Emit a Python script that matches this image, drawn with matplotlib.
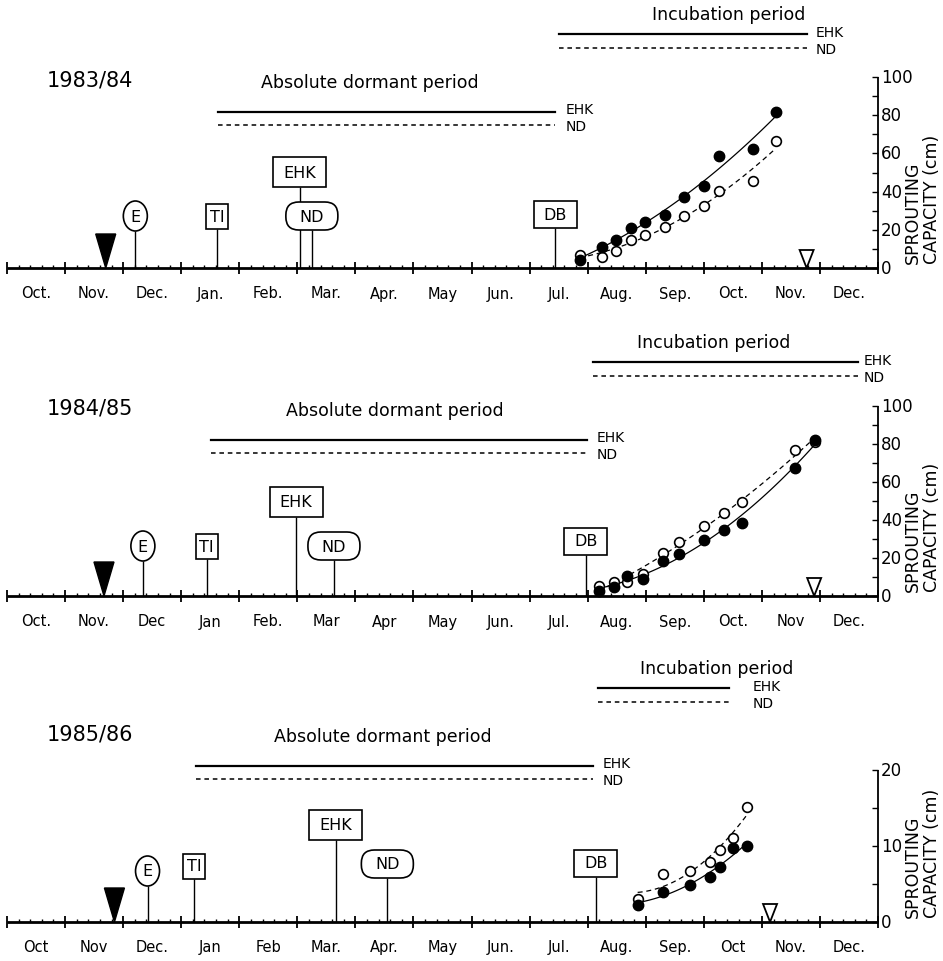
import matplotlib.pyplot as plt
import numpy as np
from matplotlib.patches import Ellipse, Rectangle, FancyBboxPatch, Polygon

# time axis in months counted from 1 October (0) to the end of December a year later (15)
years = ["1983/84", "1984/85", "1985/86"]
months_84 = ["Oct.", "Nov.", "Dec.", "Jan.", "Feb.", "Mar.", "Apr.", "May", "Jun.",
             "Jul.", "Aug.", "Sep.", "Oct.", "Nov.", "Dec."]
months_85 = ["Oct.", "Nov.", "Dec", "Jan", "Feb.", "Mar", "Apr", "May", "Jun.",
             "Jul.", "Aug.", "Sep.", "Oct.", "Nov", "Dec."]
months_86 = ["Oct", "Nov", "Dec.", "Jan", "Feb", "Mar.", "Apr.", "May", "Jun.",
             "Jul.", "Aug.", "Sep.", "Oct", "Nov.", "Dec."]

# phenological events (E, TI, EHK, ND, DB)
events = ["E", "TI", "EHK", "ND", "DB"]
events_84 = [2.21, 3.62, 5.04, 5.25, 9.44]
events_85 = [2.34, 3.44, 4.98, 5.63, 9.97]
events_86 = [2.42, 3.22, 5.66, 6.55, 10.14]

frost_dates = [1.70, 1.67, 1.85]     # black triangle
end_dates = [13.77, 13.90, 13.14]    # open triangle

dormant_84 = [3.63, 9.44]
dormant_85 = [3.51, 9.99]
dormant_86 = [3.25, 10.09]
incub_84 = [9.51, 13.77]
incub_85 = [10.09, 14.65]
incub_86 = [10.18, 12.43]

# sprouting capacity (cm)
dates_84 = [9.86, 10.24, 10.48, 10.74, 10.98, 11.33, 11.65, 12.01, 12.26, 12.84, 13.24]
ehk_84 = [4.4, 10.8, 14.6, 20.9, 24.2, 27.6, 37.2, 43.1, 58.7, 62.1, 81.9]
nd_84 = [6.6, 5.7, 9.1, 14.6, 17.5, 21.4, 27.3, 32.7, 40.3, 45.8, 66.3]

dates_85 = [10.19, 10.45, 10.67, 10.95, 11.29, 11.57, 12.01, 12.34, 12.66, 13.57, 13.91]
ehk_85 = [2.8, 4.6, 10.4, 8.9, 18.6, 22.1, 29.6, 34.6, 38.4, 67.2, 82.1]
nd_85 = [5.4, 7.5, 7.2, 11.6, 22.5, 28.2, 37.0, 43.7, 49.6, 76.8, 80.9]

dates_86 = [10.86, 11.29, 11.77, 12.10, 12.28, 12.51, 12.74]
ehk_86 = [2.3, 4.0, 4.9, 5.9, 7.3, 9.8, 10.0]
nd_86 = [3.0, 6.3, 6.7, 7.9, 9.5, 11.1, 15.1]

W, H = 943, 962
MPX = 58.07   # pixels per month
X0 = 7        # pixel of 1 October

fig = plt.figure(figsize=(W / 100, H / 100), dpi=100)


def panel(top, bottom, base, ppu, year, months, ev, ev_h, frost, end, dormant,
          incub, dates, ehk, nd, ymax, ystep, lstep, dorm_tx, inc_tx, inc_off):
    ax = fig.add_axes([0, 1 - bottom / H, 1, (bottom - top) / H])
    ax.set_xlim(-X0 / MPX, (W - X0) / MPX)
    ax.set_ylim(-(bottom - base) / ppu, (base - top) / ppu)
    ax.axis("off")

    def dx(p):
        return p / MPX

    def dy(p):
        return p / ppu

    # time axis
    ax.plot([0, 15], [0, 0], color="k", lw=2, solid_capstyle="butt")
    ax.vlines(np.arange(16), dy(-6), dy(6), color="k", lw=1.3)
    minor = [m + k / 5 for m in range(15) for k in range(1, 5)]
    ax.vlines(minor, 0, dy(3.5), color="k", lw=1)
    for i, lab in enumerate(months):
        ax.text(i + 0.5, dy(-25), lab, ha="center", va="center", fontsize=10.5)

    # right axis
    ax.vlines(15, 0, ymax, color="k", lw=1.3)
    ax.hlines(np.arange(0, ymax + 0.01, ystep), 15 - dx(6), 15, color="k", lw=1)
    for v in np.arange(0, ymax + 0.01, lstep):
        ax.text(15 + dx(3), v, "%d" % v, ha="left", va="center", fontsize=12)
    ax.text(15 + dx(35), dy(5), "SPROUTING", rotation=90, ha="center",
            va="bottom", fontsize=12.5)
    ax.text(15 + dx(54), dy(5), "CAPACITY (cm)", rotation=90, ha="center",
            va="bottom", fontsize=12.5)

    ax.text(dx(90 - X0), dy(188), year, ha="center", va="center", fontsize=15)

    # absolute dormant period
    ax.text(dx(dorm_tx - X0), dy(186), "Absolute dormant period", ha="center",
            va="center", fontsize=12.5)
    ax.plot(dormant, [dy(156)] * 2, color="k", lw=1.6)
    ax.plot(dormant, [dy(143)] * 2, color="k", lw=1.1, dashes=(3, 2.5))
    ax.text(dormant[1] + dx(10), dy(159), "EHK", va="center", fontsize=10)
    ax.text(dormant[1] + dx(10), dy(142), "ND", va="center", fontsize=10)

    # incubation period
    ax.text(dx(inc_tx - X0), dy(254), "Incubation period", ha="center",
            va="center", fontsize=12.5)
    ax.plot(incub, [dy(234)] * 2, color="k", lw=1.6)
    ax.plot(incub, [dy(220)] * 2, color="k", lw=1.1, dashes=(3, 2.5))
    ax.text(incub[1] + dx(inc_off), dy(236), "EHK", va="center", fontsize=10)
    ax.text(incub[1] + dx(inc_off), dy(219), "ND", va="center", fontsize=10)

    # triangles
    ax.add_patch(Polygon([[frost - dx(10), dy(34)], [frost + dx(10), dy(34)],
                          [frost, 0]], closed=True, fc="k", ec="k", zorder=4))
    ax.add_patch(Polygon([[end - dx(7), dy(18)], [end + dx(7), dy(18)],
                          [end, 0]], closed=True, fc="white", ec="k", lw=1.3,
                         zorder=4))

    # event markers
    sizes = {"E": (24, 30), "TI": (22, 25), "EHK": (53, 30), "ND": (52, 28),
             "DB": (43, 27)}
    for name, d, h in zip(events, ev, ev_h):
        w, hh = sizes[name]
        ax.vlines(d, 0, dy(h - hh / 2), color="k", lw=1, zorder=2)
        cx, cy = d, dy(h)
        if name == "E":
            p = Ellipse((cx, cy), dx(w), dy(hh), fc="white", ec="k", lw=1.2)
        elif name == "ND":
            p = FancyBboxPatch((cx - dx(w / 2), cy - dy(hh / 2)), dx(w), dy(hh),
                               boxstyle="round,pad=0,rounding_size=%f" % dx(13),
                               mutation_aspect=MPX / ppu, fc="white", ec="k",
                               lw=1.2)
        else:
            p = Rectangle((cx - dx(w / 2), cy - dy(hh / 2)), dx(w), dy(hh),
                          fc="white", ec="k", lw=1.2)
        p.set_zorder(3)
        ax.add_patch(p)
        ax.text(cx, cy, name, ha="center", va="center", fontsize=11.5, zorder=5)

    # sprouting capacity with fitted curves
    t = np.linspace(dates[0], dates[-1], 100)
    ax.plot(t, np.polyval(np.polyfit(dates, ehk, 2), t), color="k", lw=0.9)
    ax.plot(t, np.polyval(np.polyfit(dates, nd, 2), t), color="k", lw=0.9,
            dashes=(4, 3))
    ax.plot(dates, nd, "o", ms=7, mfc="white", mec="k", mew=1.2, zorder=6)
    ax.plot(dates, ehk, "o", ms=7.5, color="k", zorder=7)
    return ax


panel(0, 310, 269, 1.91, years[0], months_84, events_84, [52, 52, 96, 52, 54],
      frost_dates[0], end_dates[0], dormant_84, incub_84, dates_84, ehk_84, nd_84,
      100, 10, 20, 370, 729, 9)
panel(310, 640, 597, 1.9, years[1], months_85, events_85, [50, 50, 94, 50, 55],
      frost_dates[1], end_dates[1], dormant_85, incub_85, dates_85, ehk_85, nd_85,
      100, 10, 20, 395, 714, 6)
panel(640, 962, 923, 7.6, years[2], months_86, events_86, [51, 56, 97, 58, 59],
      frost_dates[2], end_dates[2], dormant_86, incub_86, dates_86, ehk_86, nd_86,
      20, 5, 10, 383, 717, 24)

fig.savefig("out.png", dpi=100, facecolor="white")
